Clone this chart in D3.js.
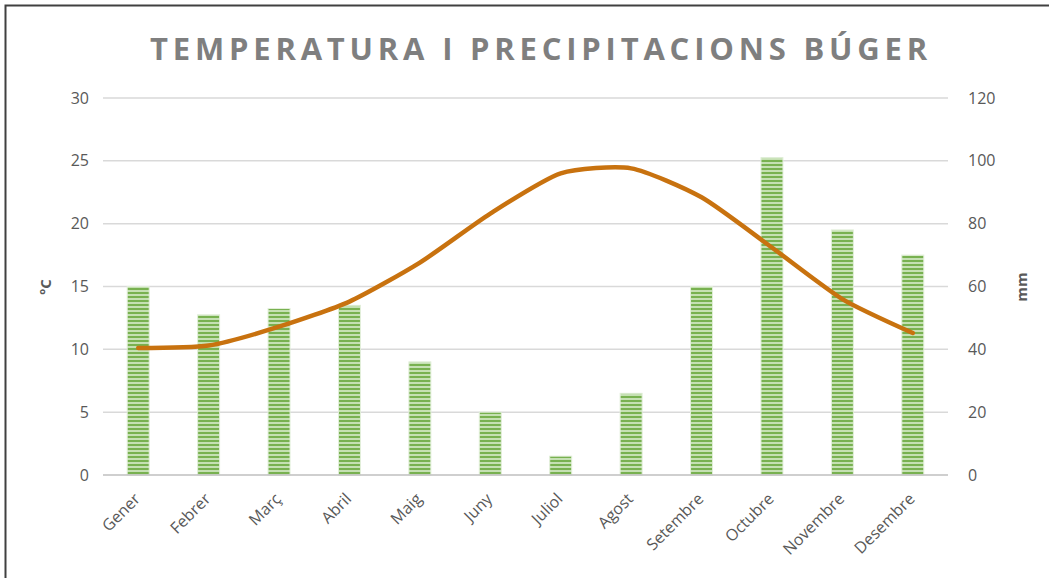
<!DOCTYPE html>
<html>
<head>
<meta charset="utf-8">
<script src="https://cdn.jsdelivr.net/npm/d3@7"></script>
<style>
  body { margin: 0; background: #fff; }
  svg text { font-family: "Open Sans", "Liberation Sans", sans-serif; }
</style>
</head>
<body>
<div id="graph"></div>
<script>
let months = ['Gener', 'Febrer', 'Març', 'Abril', 'Maig', 'Juny', 'Juliol', 'Agost', 'Setembre', 'Octubre', 'Novembre', 'Desembre'];
let rain = [60, 51, 53, 54, 36, 20, 6, 26, 60, 101, 78, 70];
let temp = [10.1, 10.3, 11.8, 13.8, 16.9, 20.8, 24.0, 24.4, 22.1, 18.1, 14.0, 11.3];
let tempTicks = [0, 5, 10, 15, 20, 25, 30];
let rainTicks = [0, 20, 40, 60, 80, 100, 120];

let width = 1049;
let height = 578;
let plotLeft = 103, plotRight = 948, plotTop = 98, plotBottom = 475;

let svg = d3.select('#graph')
    .append('svg')
        .attr('width', width)
        .attr('height', height);

// striped fill for the bars
let pat = svg.append('defs').append('pattern')
    .attr('id', 'stripes')
    .attr('patternUnits', 'userSpaceOnUse')
    .attr('width', 6).attr('height', 4);
pat.append('rect').attr('width', 6).attr('height', 4).attr('fill', '#c5e0b3');
pat.append('rect').attr('width', 6).attr('height', 2).attr('fill', '#78b150');

// frame
svg.append('path')
    .attr('d', 'M5.5,' + height + 'V5.5H' + width)
    .attr('fill', 'none')
    .attr('stroke', '#404040')
    .attr('stroke-width', 2);

svg.append('text')
    .attr('x', 541).attr('y', 60)
    .attr('text-anchor', 'middle')
    .attr('fill', '#7f7f7f')
    .attr('font-size', 31)
    .attr('font-weight', 'bold')
    .attr('letter-spacing', 4.8)
    .text('TEMPERATURA I PRECIPITACIONS BÚGER');

let x = d3.scaleBand().domain(months).range([plotLeft, plotRight]);
let yT = d3.scaleLinear().domain([0, 30]).range([plotBottom, plotTop]);
let yR = d3.scaleLinear().domain([0, 120]).range([plotBottom, plotTop]);

// gridlines
svg.append('g')
    .selectAll('line')
    .data(tempTicks.slice(1))
    .enter().append('line')
        .attr('x1', plotLeft).attr('x2', plotRight)
        .attr('y1', d => yT(d)).attr('y2', d => yT(d))
        .attr('stroke', '#d9d9d9')
        .attr('stroke-width', 1.5);

// bars
let bw = 22;
svg.selectAll('.bar')
        .data(rain)
    .enter().append('rect')
        .attr('class', 'bar')
        .attr('x', (d, i) => x(months[i]) + x.bandwidth() / 2 - bw / 2)
        .attr('width', bw)
        .attr('y', d => yR(d))
        .attr('height', d => plotBottom - yR(d))
        .attr('fill', 'url(#stripes)')
        .attr('stroke', '#e2efda')
        .attr('stroke-width', 1);

// baseline
svg.append('line')
    .attr('x1', plotLeft).attr('x2', plotRight)
    .attr('y1', plotBottom).attr('y2', plotBottom)
    .attr('stroke', '#bfbfbf')
    .attr('stroke-width', 1.5);

// temperature line
let line = d3.line()
    .x((d, i) => x(months[i]) + x.bandwidth() / 2)
    .y(d => yT(d))
    .curve(d3.curveCardinal.tension(0.35));

svg.append('path')
    .datum(temp)
    .attr('d', line)
    .attr('fill', 'none')
    .attr('stroke', '#c8720f')
    .attr('stroke-width', 4.5)
    .attr('stroke-linecap', 'round');

// axes
let axL = svg.append('g')
    .attr('transform', 'translate(' + (plotLeft - 14) + ',0)')
    .call(d3.axisLeft(yT).tickValues(tempTicks).tickSize(0).tickPadding(0));
let axR = svg.append('g')
    .attr('transform', 'translate(' + (plotRight + 20) + ',0)')
    .call(d3.axisRight(yR).tickValues(rainTicks).tickSize(0).tickPadding(0));
let axB = svg.append('g')
    .attr('transform', 'translate(0,' + plotBottom + ')')
    .call(d3.axisBottom(x).tickSize(0).tickPadding(0));

[axL, axR, axB].forEach(a => {
    a.select('.domain').remove();
    a.selectAll('text')
        .attr('fill', '#595959')
        .attr('font-size', 16)
        .attr('font-family', '"Open Sans", sans-serif');
});

axB.selectAll('text')
    .attr('font-size', 16)
    .attr('text-anchor', 'end')
    .attr('dy', '0.35em')
    .attr('transform', 'translate(-1,21) rotate(-45)');

svg.append('text')
    .attr('transform', 'translate(51,287) rotate(-90)')
    .attr('text-anchor', 'middle')
    .attr('fill', '#595959')
    .attr('font-size', 15)
    .attr('font-weight', 'bold')
    .text('ºC');

svg.append('text')
    .attr('transform', 'translate(1027,287) rotate(-90)')
    .attr('text-anchor', 'middle')
    .attr('fill', '#595959')
    .attr('font-size', 15)
    .attr('font-weight', 'bold')
    .text('mm');
</script>
</body>
</html>
